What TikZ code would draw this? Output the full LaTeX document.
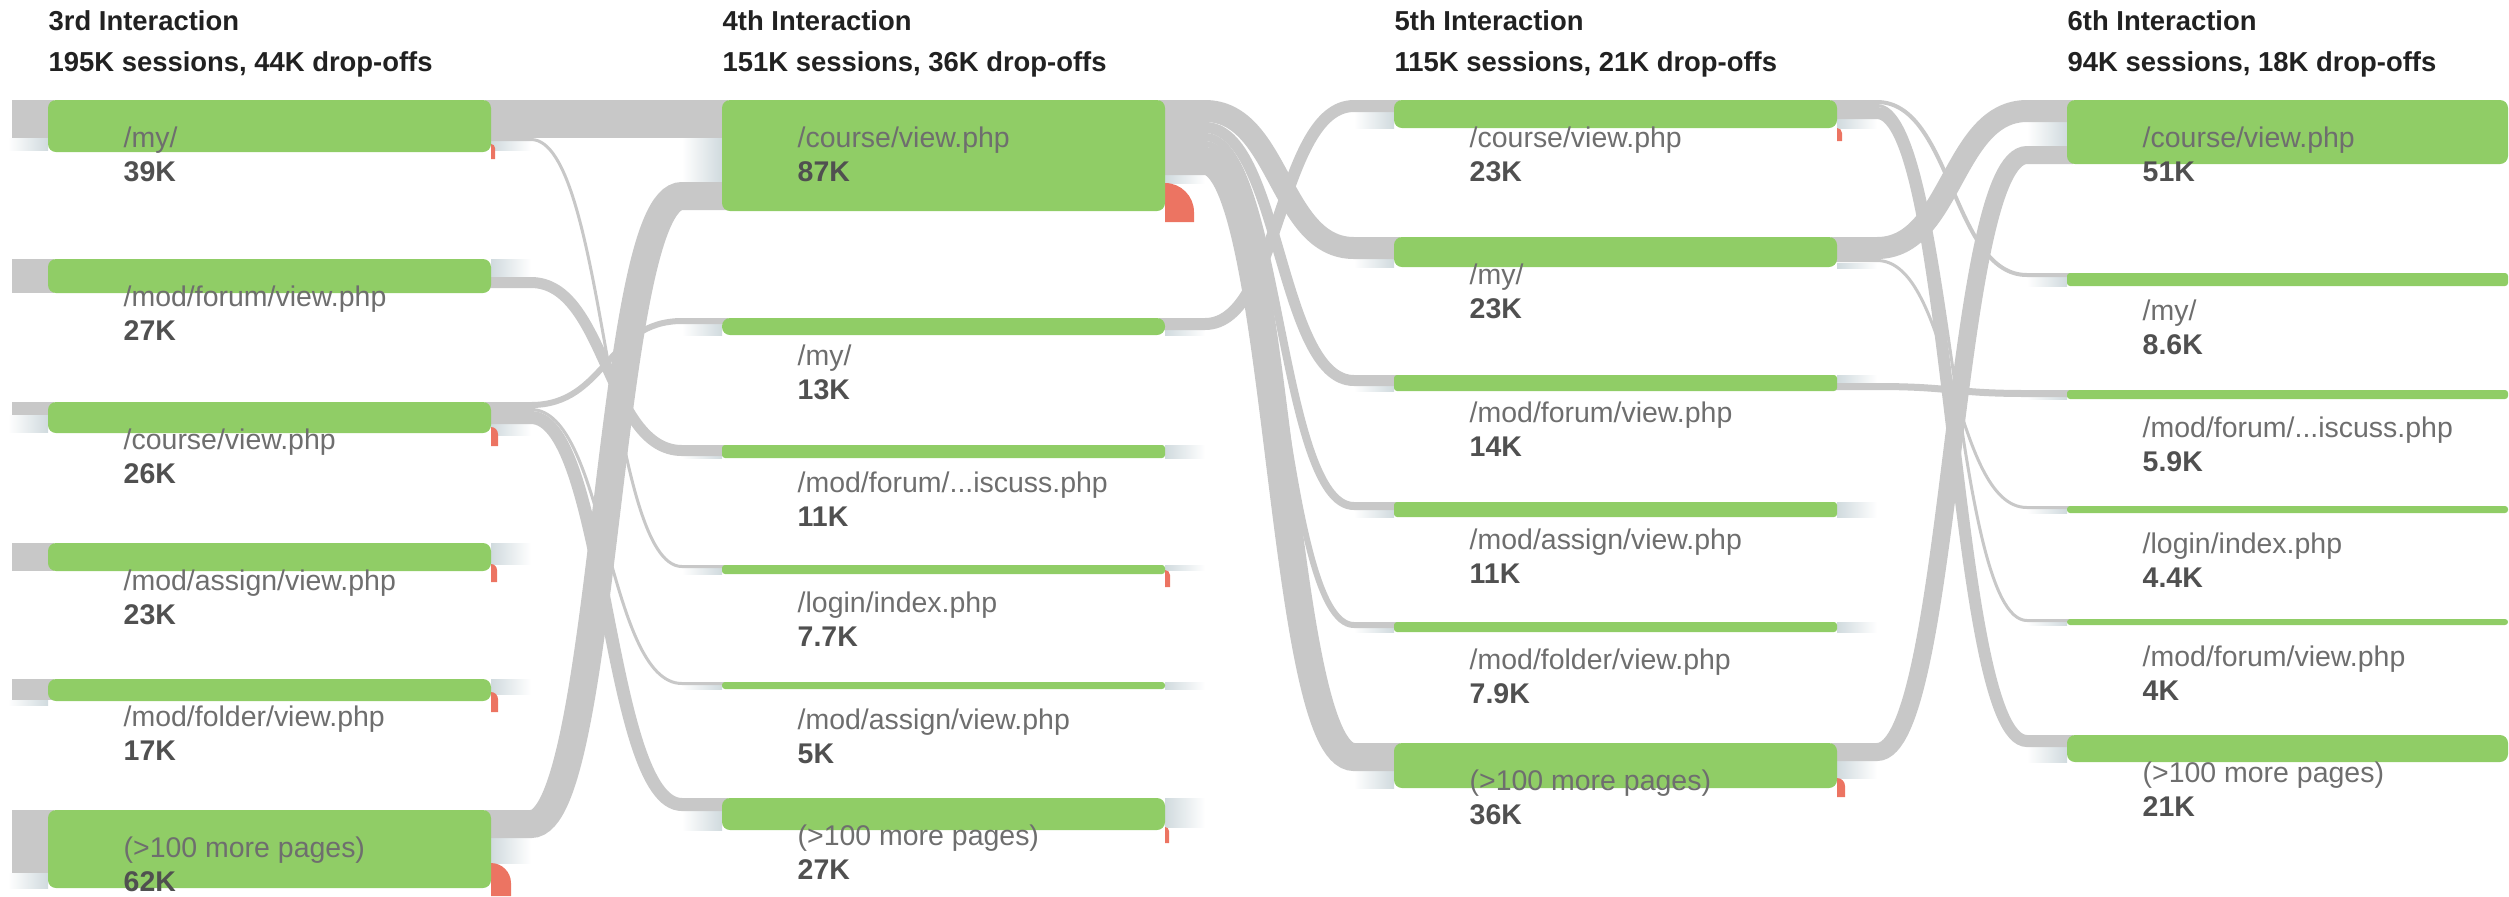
\documentclass[tikz,border=0pt]{standalone}
\usepackage{fontspec}
\setmainfont{Liberation Sans}
\usetikzlibrary{calc, backgrounds}
\definecolor{barfill}{RGB}{144,205,102}
\definecolor{flowgray}{RGB}{200,200,200}
\definecolor{dropred}{RGB}{236,116,98}
\definecolor{fadeblue}{RGB}{208,218,222}
\definecolor{pagegray}{RGB}{110,110,110}
\definecolor{countgray}{RGB}{80,80,80}
\definecolor{headblack}{RGB}{33,33,33}

% ribbon from one page bar to a page bar of the next interaction
\newcommand{\flowband}[5]{\draw[flow, line width=#5*0.1mm] ($(#1.north east)+(-6,#2)$) -- ++(46,0) .. controls +(75,0) and +(-75,0) .. ($(#3.north west)+(-40,#4)$) -- ++(46,0);}
% faded ends of the bars
\newcommand{\fadeR}[3]{\shade[left color=fadeblue, right color=white] ($(#1.north east)+(0,#2)$) rectangle ++(40,#3);}
\newcommand{\fadeL}[3]{\shade[left color=white, right color=fadeblue] ($(#1.north west)+(-40,#2)$) rectangle ++(40,#3);}
% red drop-off mark
\newcommand{\dropoff}[4]{\fill[dropred] ($(#1.north east)+(0,#2)$) coordinate (dtop) -- ($(dtop)+(0,#4)$) -- ($(dtop)+(#3,#4)$) -- ($(dtop)+(#3,#3)$) .. controls ($(dtop)+(#3,0.45*#3)$) and ($(dtop)+(0.55*#3,0)$) .. (dtop) -- cycle;}
% page name and count below a bar
\newcommand{\pagelabel}[3]{\node[pagename] (#1-name) at ($(#1.north west)+(75,47)$) {#2};
  \node[pagecount] (#1-count) at ($(#1.north west)+(75,81)$) {#3};}

\begin{document}
\begin{tikzpicture}[x=0.1mm, y=-0.1mm,
  pagebar/.style={fill=barfill, rounded corners=0.8mm, anchor=north west, inner sep=0, outer sep=0, minimum width=44.3mm},
  thinbar/.style={pagebar, rounded corners=0.3mm},
  flow/.style={draw=flowgray},
  pagename/.style={anchor=base west, inner sep=0, text=pagegray, font=\fontsize{8.1}{9}\selectfont},
  pagecount/.style={pagename, text=countgray, font=\fontsize{8.1}{9}\selectfont\bfseries},
  colhead/.style={anchor=base west, inner sep=0, text=headblack, font=\fontsize{7.8}{9}\selectfont\bfseries}]
  \useasboundingbox (0,0) rectangle (2509,896);

  % Column headers
  \node[colhead] (h3) at (48,30) {3rd Interaction};
  \node[colhead] (h3s) at (48,71) {195K sessions, 44K drop-offs};
  \node[colhead] (h4) at (722,30) {4th Interaction};
  \node[colhead] (h4s) at (722,71) {151K sessions, 36K drop-offs};
  \node[colhead] (h5) at (1394,30) {5th Interaction};
  \node[colhead] (h5s) at (1394,71) {115K sessions, 21K drop-offs};
  \node[colhead] (h6) at (2067,30) {6th Interaction};
  \node[colhead] (h6s) at (2067,71) {94K sessions, 18K drop-offs};

  % 3rd interaction
  \node[pagebar, minimum height=5.2mm] (c3my) at (48,100) {};
  \node[pagebar, minimum height=3.4mm] (c3forum) at (48,259) {};
  \node[pagebar, minimum height=3.1mm] (c3course) at (48,402) {};
  \node[pagebar, minimum height=2.8mm] (c3assign) at (48,543) {};
  \node[pagebar, minimum height=2.2mm] (c3folder) at (48,679) {};
  \node[pagebar, minimum height=7.8mm] (c3more) at (48,810) {};

  % 4th interaction
  \node[pagebar, minimum height=11.1mm] (c4course) at (722,100) {};
  \node[pagebar, minimum height=1.7mm] (c4my) at (722,318) {};
  \node[thinbar, minimum height=1.3mm] (c4discuss) at (722,445) {};
  \node[thinbar, minimum height=0.9mm] (c4login) at (722,565) {};
  \node[thinbar, minimum height=0.7mm] (c4assign) at (722,682) {};
  \node[pagebar, minimum height=3.2mm] (c4more) at (722,798) {};

  % 5th interaction
  \node[pagebar, minimum height=2.8mm] (c5course) at (1394,100) {};
  \node[pagebar, minimum height=3.0mm] (c5my) at (1394,237) {};
  \node[thinbar, minimum height=1.6mm] (c5forum) at (1394,375) {};
  \node[thinbar, minimum height=1.5mm] (c5assign) at (1394,502) {};
  \node[thinbar, minimum height=1.0mm] (c5folder) at (1394,622) {};
  \node[pagebar, minimum height=4.5mm] (c5more) at (1394,743) {};

  % 6th interaction
  \node[pagebar, minimum width=44.1mm, minimum height=6.4mm] (c6course) at (2067,100) {};
  \node[thinbar, minimum width=44.1mm, minimum height=1.3mm] (c6my) at (2067,273) {};
  \node[thinbar, minimum width=44.1mm, minimum height=0.9mm] (c6discuss) at (2067,390) {};
  \node[thinbar, minimum width=44.1mm, minimum height=0.7mm] (c6login) at (2067,506) {};
  \node[thinbar, minimum width=44.1mm, minimum height=0.6mm] (c6forum) at (2067,619) {};
  \node[pagebar, minimum width=44.1mm, minimum height=2.7mm] (c6more) at (2067,735) {};

  % Labels
  \pagelabel{c3my}{/my/}{39K}
  \pagelabel{c3forum}{/mod/forum/view.php}{27K}
  \pagelabel{c3course}{/course/view.php}{26K}
  \pagelabel{c3assign}{/mod/assign/view.php}{23K}
  \pagelabel{c3folder}{/mod/folder/view.php}{17K}
  \pagelabel{c3more}{(>100 more pages)}{62K}
  \pagelabel{c4course}{/course/view.php}{87K}
  \pagelabel{c4my}{/my/}{13K}
  \pagelabel{c4discuss}{/mod/forum/...iscuss.php}{11K}
  \pagelabel{c4login}{/login/index.php}{7.7K}
  \pagelabel{c4assign}{/mod/assign/view.php}{5K}
  \pagelabel{c4more}{(>100 more pages)}{27K}
  \pagelabel{c5course}{/course/view.php}{23K}
  \pagelabel{c5my}{/my/}{23K}
  \pagelabel{c5forum}{/mod/forum/view.php}{14K}
  \pagelabel{c5assign}{/mod/assign/view.php}{11K}
  \pagelabel{c5folder}{/mod/folder/view.php}{7.9K}
  \pagelabel{c5more}{(>100 more pages)}{36K}
  \pagelabel{c6course}{/course/view.php}{51K}
  \pagelabel{c6my}{/my/}{8.6K}
  \pagelabel{c6discuss}{/mod/forum/...iscuss.php}{5.9K}
  \pagelabel{c6login}{/login/index.php}{4.4K}
  \pagelabel{c6forum}{/mod/forum/view.php}{4K}
  \pagelabel{c6more}{(>100 more pages)}{21K}

  \begin{scope}[on background layer]
    % Faded bar ends
    \fadeR{c3my}{41}{9} \fadeR{c3forum}{0}{18} \fadeR{c3course}{22}{11}
    \fadeR{c3assign}{0}{21} \fadeR{c3folder}{0}{15} \fadeR{c3more}{28}{25}
    \fadeR{c4course}{75}{8} \fadeR{c4my}{12}{5} \fadeR{c4discuss}{0}{13}
    \fadeR{c4login}{0}{5} \fadeR{c4assign}{0}{7} \fadeR{c4more}{0}{29}
    \fadeR{c5course}{19}{9} \fadeR{c5my}{26}{5} \fadeR{c5forum}{0}{8}
    \fadeR{c5assign}{0}{15} \fadeR{c5folder}{0}{10} \fadeR{c5more}{18}{17}
    \fadeL{c3my}{38}{12} \fadeL{c3course}{13}{17} \fadeL{c3folder}{21}{5} \fadeL{c3more}{63}{15}
    \fadeL{c4course}{38}{44} \fadeL{c4my}{6}{11} \fadeL{c4discuss}{11}{2}
    \fadeL{c4login}{3}{6} \fadeL{c4assign}{3}{4} \fadeL{c4more}{13}{19}
    \fadeL{c5course}{12}{16} \fadeL{c5my}{22}{8} \fadeL{c5forum}{11}{5}
    \fadeL{c5assign}{8}{7} \fadeL{c5folder}{6}{4} \fadeL{c5more}{28}{17}
    \fadeL{c6course}{22}{24} \fadeL{c6my}{4}{9} \fadeL{c6discuss}{7}{2}
    \fadeL{c6login}{3}{4} \fadeL{c6forum}{3}{3} \fadeL{c6more}{12}{15}

    % Incoming traffic from the 2nd interaction
    \fill[flowgray] ($(c3my.north west)+(-36,0)$) rectangle ++(42,38);
    \fill[flowgray] ($(c3forum.north west)+(-36,0)$) rectangle ++(42,34);
    \fill[flowgray] ($(c3course.north west)+(-36,0)$) rectangle ++(42,13);
    \fill[flowgray] ($(c3assign.north west)+(-36,0)$) rectangle ++(42,28);
    \fill[flowgray] ($(c3folder.north west)+(-36,0)$) rectangle ++(42,21);
    \fill[flowgray] ($(c3more.north west)+(-36,0)$) rectangle ++(42,63);

    % 3rd -> 4th
    \flowband{c3my}{19}{c4course}{19}{38}
    \flowband{c3my}{39.5}{c4login}{1.5}{3}
    \flowband{c3forum}{23.5}{c4discuss}{5.5}{11}
    \flowband{c3course}{3}{c4my}{3}{6}
    \flowband{c3course}{7.5}{c4assign}{1.5}{3}
    \flowband{c3course}{15.5}{c4more}{6.5}{13}
    \flowband{c3more}{14}{c4course}{96}{28}

    % 4th -> 5th
    \flowband{c4course}{11}{c5my}{11}{22}
    \flowband{c4course}{27.5}{c5forum}{5.5}{11}
    \flowband{c4course}{37}{c5assign}{4}{8}
    \flowband{c4course}{44}{c5folder}{3}{6}
    \flowband{c4course}{61}{c5more}{14}{28}
    \flowband{c4my}{6}{c5course}{6}{12}

    % 5th -> 6th
    \flowband{c5course}{2}{c6my}{2}{4}
    \flowband{c5course}{5.5}{c6forum}{1.5}{3}
    \flowband{c5course}{13}{c6more}{6}{12}
    \flowband{c5my}{11}{c6course}{11}{22}
    \flowband{c5my}{23.5}{c6login}{1.5}{3}
    \flowband{c5forum}{11.5}{c6discuss}{3.5}{7}
    \flowband{c5more}{9}{c6course}{55}{18}

    % Drop-offs
    \dropoff{c3my}{44}{4}{15}
    \dropoff{c3course}{25}{7}{19}
    \dropoff{c3assign}{21}{6}{18}
    \dropoff{c3folder}{13}{7}{20}
    \dropoff{c3more}{53}{20}{33}
    \dropoff{c4course}{83}{29}{39}
    \dropoff{c4login}{5}{5}{17}
    \dropoff{c4more}{29}{4}{16}
    \dropoff{c5course}{28}{5}{13}
    \dropoff{c5more}{35}{8}{19}
  \end{scope}
\end{tikzpicture}
\end{document}
